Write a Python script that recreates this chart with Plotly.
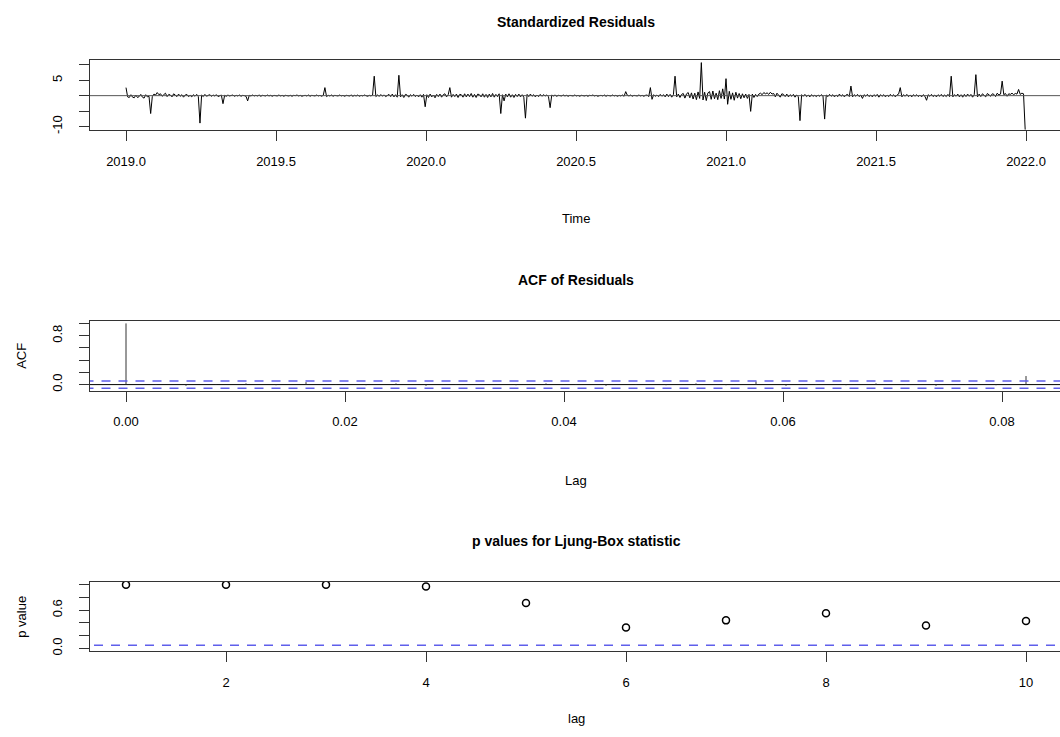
import plotly.graph_objects as go

# ---- standardized residuals (one value every 2 days, starting 2019.0) ----
resid = [
    2.6, -0.4, -0.6, 0.3, -0.5, -0.7, 0.2, -0.6, -0.3, 0.4, -0.5, -0.8, 0.3, -0.4, -0.2, -5.8, -0.3, 0.5, 0.2, 1.0,
    0.3, 0.6, -0.2, 0.5, 0.8, -0.3, 0.4, 0.2, -0.4, 0.6, 0.1, -0.3, 0.5, -0.2, 0.3, -0.5, 0.2, 0.4, -0.3, 0.1,
    -0.4, 0.3, -0.2, 0.4, -0.3, -8.9, 0.2, -0.3, 0.4, -0.2, 0.1, 0.3, -0.2, 0.2, -0.1, 0.3, -0.3, 0.1, 0.2, -2.6,
    0.1, -0.2, 0.2, -0.1, 0.1, 0.2, -0.2, 0.1, -0.1, 0.2, -0.2, 0.1, 0.0, -0.2, -1.7, 0.1, -0.1, 0.2, -0.1, 0.1,
    -0.1, 0.2, -0.2, 0.1, 0.0, -0.1, 0.2, -0.1, 0.1, -0.2, 0.1, 0.0, -0.1, 0.2, -0.1, 0.1, -0.2, 0.1, 0.0, -0.1,
    0.1, -0.2, 0.1, 0.0, 0.2, -0.1, 0.1, -0.2, 0.0, 0.1, -0.1, 0.2, -0.2, 0.1, 0.0, -0.1, 0.2, -0.1, 0.1, -0.2,
    0.1, 2.6, -0.3, 0.1, -0.1, 0.2, -0.2, 0.1, 0.0, -0.1, 0.2, -0.1, 0.1, -0.2, 0.1, 0.0, -0.1, 0.2, -0.2, 0.1,
    -0.1, 0.2, -0.2, 0.1, -0.1, 0.2, 0.0, -0.2, 0.1, -0.1, 0.2, 6.3, -0.3, 0.2, -0.2, 0.3, -0.1, 0.2, -0.3, 0.1,
    0.4, -0.3, 0.5, -0.4, 0.3, -0.5, 6.6, -0.4, 0.3, -0.6, 0.4, 0.2, -0.5, 0.3, -0.2, 0.4, -0.3, 0.2, -0.4, 0.3,
    -0.5, 0.4, -3.6, 0.3, -0.6, 0.5, -0.4, 0.2, -0.7, 0.4, -0.3, 0.5, -0.5, 0.3, 0.6, -0.4, 0.3, 2.6, -0.5, 0.4,
    -0.3, 0.5, -0.6, 0.4, 0.3, -0.5, 0.6, -0.4, 0.5, -0.3, 0.7, -0.5, 0.4, -0.6, 0.5, 0.3, -0.4, 0.6, -0.5, 0.4,
    -0.6, 0.5, -0.4, 0.7, -0.5, 0.4, -0.3, 0.6, -5.8, 0.3, -1.7, 0.5, -0.4, 0.6, -0.5, 0.3, -0.6, 0.4, -0.3, 0.5,
    -0.4, 0.3, -0.5, -7.3, 0.4, -0.3, 0.5, -0.2, 0.3, -0.4, 0.2, -0.3, 0.4, -0.2, 0.3, -0.1, 0.2, -0.3, -3.9, 0.2,
    -0.1, 0.2, -0.2, 0.1, 0.0, -0.1, 0.2, -0.1, 0.1, -0.2, 0.1, 0.0, -0.1, 0.2, -0.1, 0.1, -0.2, 0.1, 0.0, -0.1,
    0.1, -0.2, 0.1, 0.0, 0.2, -0.1, 0.1, -0.2, 0.0, 0.1, -0.1, 0.2, -0.2, 0.1, 0.0, -0.1, 0.2, -0.1, 0.1, -0.2,
    0.1, -0.1, 0.2, -0.2, 1.3, 0.1, -0.1, 0.2, -0.2, 0.1, 0.0, -0.1, 0.2, -0.1, 0.1, -0.2, 0.1, 0.2, -0.3, 2.6,
    -1.2, 0.3, -0.2, 0.2, -0.3, 0.4, -0.2, 0.3, -0.4, 0.5, -0.3, 0.4, -0.5, 0.3, 6.3, -0.4, 0.5, -0.6, 0.4, 0.7,
    -0.8, 0.6, 1.0, -0.7, 0.9, -1.1, 0.8, -1.3, 1.2, -0.9, 10.7, -1.4, 1.1, -1.6, 0.9, 1.3, -1.2, 1.5, -1.0, 0.8,
    -1.3, 1.6, -0.9, 2.2, -1.1, 5.5, -2.8, 1.4, -1.2, 0.9, -1.5, 1.1, -0.8, 0.7, -1.0, 0.6, -0.7, 0.5, -0.9, 0.4,
    -5.1, 0.5, -0.6, 0.4, -0.3, 0.5, 0.8, 0.3, 1.0, 0.6, 0.9, 0.4, 1.1, 0.5, 0.7, -0.4, 0.8, 0.3, -0.5, 0.6,
    0.4, -0.3, 0.5, -0.4, 0.3, -0.2, 0.4, -0.5, 0.2, -0.3, -8.1, 0.3, -0.2, 0.4, -0.3, 0.2, -0.4, 0.3, -0.2, 0.1,
    -0.3, 0.2, -0.2, 0.3, -0.1, -7.6, 0.2, -0.3, 0.4, -0.2, 0.3, -0.4, 0.2, -0.3, 0.5, -0.2, 0.3, -0.4, 0.2, 0.4,
    -0.3, 3.1, -0.4, 0.3, -0.2, 0.4, -0.3, 0.2, -0.9, 0.3, -0.2, 0.4, -0.3, 0.2, -0.4, 0.3, -0.2, 0.4, -0.5, 0.3,
    -0.2, 0.3, -0.4, 0.2, -0.3, 0.4, -0.2, 0.3, -0.4, 0.2, 0.5, 2.6, -0.4, 0.3, -0.2, 0.4, -0.3, 0.2, -0.4, 0.3,
    -0.2, 0.3, -0.3, 0.2, -0.4, 0.3, -0.2, -1.5, 0.3, -0.2, 0.4, -0.3, 0.2, -0.4, 0.3, -0.2, 0.4, -0.3, 0.2, -0.3,
    0.4, -0.3, 6.3, -0.4, 0.3, -0.2, 0.5, -0.4, 0.3, -0.5, 0.4, -0.3, 0.5, -0.2, 0.4, -0.5, 0.3, 6.8, -0.4, 0.5,
    -0.3, 0.6, 0.2, -0.4, 0.7, 0.3, -0.2, 0.6, 0.4, -0.3, 0.8, 0.2, 0.5, 4.7, 0.3, 0.7, -0.2, 0.6, 0.4, 0.8,
    0.3, 0.7, 0.5, 2.0, 0.4, 0.8, 0.6, -11.0,
]
start_year = 2019
step_days = 2
times = [start_year + i * step_days / 365 for i in range(len(resid))]

time_ticks = [2019.0, 2019.5, 2020.0, 2020.5, 2021.0, 2021.5, 2022.0]
time_labels = ["2019.0", "2019.5", "2020.0", "2020.5", "2021.0", "2021.5", "2022.0"]
resid_ticks = [-10, -5, 0, 5, 10]
resid_labels = ["-10", "", "", "5", ""]

# ---- autocorrelation of residuals, lags 0..30 days (in years) ----
acf_lag_days = list(range(0, 31))
acf_values = [
    1.0, 0.01, -0.02, 0.01, 0.02, -0.01, 0.04, 0.01, -0.01, 0.02, -0.02,
    0.01, 0.00, -0.01, 0.02, 0.01, -0.02, 0.01, -0.01, 0.02, -0.01,
    0.05, -0.02, 0.01, -0.01, 0.02, 0.01, -0.02, 0.01, -0.01, 0.14,
]
n_obs = 1096
conf_limit = 1.96 / n_obs ** 0.5

acf_ticks = [0.00, 0.02, 0.04, 0.06, 0.08]
acf_tick_labels = ["0.00", "0.02", "0.04", "0.06", "0.08"]
acf_yticks = [0.0, 0.2, 0.4, 0.6, 0.8, 1.0]
acf_ylabels = ["0.0", "", "", "", "0.8", ""]

# ---- Ljung-Box p values ----
lb_lags = [1, 2, 3, 4, 5, 6, 7, 8, 9, 10]
lb_pvalues = [0.999, 0.999, 0.999, 0.97, 0.71, 0.33, 0.44, 0.55, 0.36, 0.43]
lb_ticks = [2, 4, 6, 8, 10]
p_yticks = [0.0, 0.2, 0.4, 0.6, 0.8, 1.0]
p_ylabels = ["0.0", "", "", "0.6", "", ""]
sig_level = 0.05

W, H = 1060, 737
FONT = "Liberation Sans, Arial, Helvetica, sans-serif"
BLUE = "rgb(95,95,235)"
AXIS = "#333333"


def ydom(top_px, bottom_px):
    return [1 - bottom_px / H, 1 - top_px / H]


def ypos(px):
    return 1 - px / H


fig = go.Figure()

# panel 1: residual series
fig.add_trace(go.Scatter(x=times, y=resid, mode="lines",
                         line=dict(color="black", width=1),
                         xaxis="x", yaxis="y", hoverinfo="skip"))
fig.add_trace(go.Scatter(x=[2018.8, 2022.2], y=[0, 0], mode="lines",
                         line=dict(color="#555555", width=1),
                         xaxis="x", yaxis="y", hoverinfo="skip"))

# panel 2: acf stems
acf_lags = [d / 365 for d in acf_lag_days]
stem_x, stem_y = [], []
for lag, val in zip(acf_lags, acf_values):
    stem_x += [lag, lag, None]
    stem_y += [0, val, None]
fig.add_trace(go.Scatter(x=[-0.01, 0.1], y=[0, 0], mode="lines",
                         line=dict(color="black", width=1),
                         xaxis="x2", yaxis="y2", hoverinfo="skip"))
fig.add_trace(go.Scatter(x=stem_x, y=stem_y, mode="lines",
                         line=dict(color="#333333", width=1),
                         xaxis="x2", yaxis="y2", hoverinfo="skip"))
for lim in (conf_limit, -conf_limit):
    fig.add_trace(go.Scatter(x=[-0.01, 0.1], y=[lim, lim], mode="lines",
                             line=dict(color=BLUE, width=1.6, dash="9px,8px"),
                             xaxis="x2", yaxis="y2", hoverinfo="skip"))

# panel 3: Ljung-Box p values
fig.add_trace(go.Scatter(x=[0, 11], y=[sig_level, sig_level], mode="lines",
                         line=dict(color=BLUE, width=1.6, dash="9px,8px"),
                         xaxis="x3", yaxis="y3", hoverinfo="skip"))
fig.add_trace(go.Scatter(x=lb_lags, y=lb_pvalues, mode="markers",
                         marker=dict(symbol="circle-open", size=7, color="black",
                                     line=dict(width=1.5, color="black")),
                         xaxis="x3", yaxis="y3", hoverinfo="skip"))

tickfont = dict(family=FONT, size=13, color="black")


def xaxis_cfg(rng, tickvals, ticktext, anchor):
    return dict(domain=[0, 1], anchor=anchor, range=rng, tickvals=tickvals,
                ticktext=ticktext, showline=True, mirror=True, linecolor=AXIS,
                linewidth=1, ticks="outside", ticklen=10, tickcolor=AXIS,
                showgrid=False, zeroline=False, tickfont=tickfont,
                ticklabelstandoff=9)


def yaxis_cfg(dom, rng, tickvals, ticktext, anchor):
    return dict(domain=dom, anchor=anchor, range=rng, tickvals=tickvals,
                ticktext=ticktext, showline=True, mirror=False, linecolor=AXIS,
                linewidth=1, ticks="outside", ticklen=10, tickcolor=AXIS,
                showgrid=False, zeroline=False, tickfont=tickfont,
                tickangle=-90, ticklabelstandoff=12)


x_right_1 = 2018.88 + (W - 90) / 300
x_right_2 = -0.003288 + (W - 90) / 10950
x_right_3 = 0.64 + (W - 90) / 100

fig.update_layout(
    width=W, height=H,
    margin=dict(l=90, r=0, t=0, b=0),
    paper_bgcolor="white", plot_bgcolor="white",
    showlegend=False,
    font=dict(family=FONT, color="black"),
    xaxis=xaxis_cfg([2018.88, x_right_1], time_ticks, time_labels, "y"),
    yaxis=yaxis_cfg(ydom(60, 131), [-11.17, 11.68], resid_ticks, resid_labels, "x"),
    xaxis2=xaxis_cfg([-0.003288, x_right_2], acf_ticks, acf_tick_labels, "y2"),
    yaxis2=yaxis_cfg(ydom(323, 393.5), [-0.1016, 1.0424], acf_yticks, acf_ylabels, "x2"),
    xaxis3=xaxis_cfg([0.64, x_right_3], lb_ticks, [str(v) for v in lb_ticks], "y3"),
    yaxis3=yaxis_cfg(ydom(586, 655.5), [-0.04, 1.04], p_yticks, p_ylabels, "x3"),
)

center_x = (576 - 90) / (W - 90)
annotations = [
    ("<b>Standardized Residuals</b>", ypos(22), 14),
    ("Time", ypos(220), 13),
    ("<b>ACF of Residuals</b>", ypos(282), 14),
    ("Lag", ypos(484), 13),
    ("<b>p values for Ljung-Box statistic</b>", ypos(545), 14),
    ("lag", ypos(723), 13),
]
for text, y, size in annotations:
    fig.add_annotation(text=text, x=center_x, y=y, xref="paper", yref="paper",
                       xanchor="center", yanchor="middle", showarrow=False,
                       font=dict(family=FONT, size=size, color="black"))

# vertical axis titles, 22 px from the left page edge
side_x = (22 - 90) / (W - 90)
side_titles = [("ACF", ypos(358.3)), ("p value", ypos(621))]
for text, y in side_titles:
    fig.add_annotation(text=text, x=side_x, y=y, xref="paper", yref="paper",
                       showarrow=False, textangle=-90, xanchor="center", yanchor="middle",
                       font=dict(family=FONT, size=13, color="black"))

fig.write_html("out.html")
